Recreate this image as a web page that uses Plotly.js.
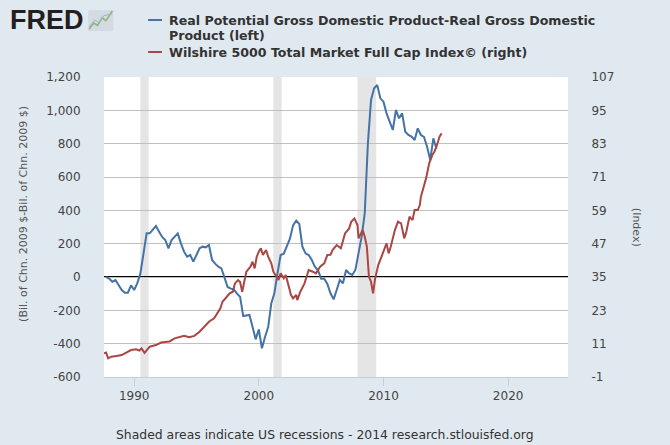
<!DOCTYPE html>
<html>
<head>
<meta charset="utf-8">
<script src="https://cdn.plot.ly/plotly-3.0.1.min.js"></script>
<style>
  html, body { margin: 0; padding: 0; background: #e1e9f0; }
  #chart { width: 670px; height: 445px; }
</style>
</head>
<body>
<div id="chart"></div>
<script>
// Real Potential GDP - Real GDP, quarterly (left axis)
var gap_dates = ['1987-10-01', '1988-01-01', '1988-04-01', '1988-07-01', '1988-10-01',
  '1989-01-01', '1989-04-01', '1989-07-01', '1989-10-01',
  '1990-01-01', '1990-04-01', '1990-07-01', '1990-10-01',
  '1991-01-01', '1991-04-01', '1991-07-01', '1991-10-01',
  '1992-01-01', '1992-04-01', '1992-07-01', '1992-10-01',
  '1993-01-01', '1993-04-01', '1993-07-01', '1993-10-01',
  '1994-01-01', '1994-04-01', '1994-07-01', '1994-10-01',
  '1995-01-01', '1995-04-01', '1995-07-01', '1995-10-01',
  '1996-01-01', '1996-04-01', '1996-07-01', '1996-10-01',
  '1997-01-01', '1997-04-01', '1997-07-01', '1997-10-01',
  '1998-01-01', '1998-04-01', '1998-07-01', '1998-10-01',
  '1999-01-01', '1999-04-01', '1999-07-01', '1999-10-01',
  '2000-01-01', '2000-04-01', '2000-07-01', '2000-10-01',
  '2001-01-01', '2001-04-01', '2001-07-01', '2001-10-01',
  '2002-01-01', '2002-04-01', '2002-07-01', '2002-10-01',
  '2003-01-01', '2003-04-01', '2003-07-01', '2003-10-01',
  '2004-01-01', '2004-04-01', '2004-07-01', '2004-10-01',
  '2005-01-01', '2005-04-01', '2005-07-01', '2005-10-01',
  '2006-01-01', '2006-04-01', '2006-07-01', '2006-10-01',
  '2007-01-01', '2007-04-01', '2007-07-01', '2007-10-01',
  '2008-01-01', '2008-04-01', '2008-07-01', '2008-10-01',
  '2009-01-01', '2009-04-01', '2009-07-01', '2009-10-01',
  '2010-01-01', '2010-04-01', '2010-07-01', '2010-10-01',
  '2011-01-01', '2011-04-01', '2011-07-01', '2011-10-01',
  '2012-01-01', '2012-04-01', '2012-07-01', '2012-10-01',
  '2013-01-01', '2013-04-01', '2013-07-01', '2013-10-01',
  '2014-01-01', '2014-04-01'];
var gap_values = [0, -10, -28, -18, -48,
  -78, -94, -94, -50,
  -78, -38, 20, 140,
  262, 262, 282, 306,
  272, 240, 222, 172,
  222, 240, 262, 202,
  152, 122, 132, 92,
  130, 172, 182, 178,
  192, 102, 80, 62,
  52, -8, -60, -70,
  -74, -100, -118, -234,
  -230, -228, -298, -374,
  -314, -428, -360, -300,
  -158, -98, 22, 132,
  140, 180, 230, 310,
  338, 318, 182, 142,
  132, 102, 62, 40,
  -10, -10, -42, -98,
  -134, -78, -18, -38,
  42, 22, 12, 42,
  142, 242, 382, 802,
  1062, 1132, 1152, 1072,
  1052, 982, 932, 882,
  1002, 952, 982, 872,
  852, 842, 822, 892,
  852, 840, 782, 702,
  832, 770];

// Wilshire 5000 Total Market Full Cap Index (right axis)
var wil_dates = ['1987-08-01', '1987-10-01', '1987-12-01', '1988-03-01', '1988-08-01',
  '1989-01-01', '1989-05-01', '1989-10-01', '1990-03-01', '1990-06-01', '1990-08-01', '1990-11-01',
  '1991-04-01', '1991-10-01', '1992-03-01', '1992-11-01', '1993-04-01', '1993-09-01',
  '1994-01-01', '1994-06-01', '1994-11-01', '1995-04-01', '1995-09-01', '1996-01-01',
  '1996-06-01', '1996-12-01', '1997-02-01', '1997-06-01', '1997-09-01', '1997-12-01',
  '1998-02-01', '1998-05-01', '1998-07-01', '1998-09-01', '1998-11-01', '1999-01-01',
  '1999-05-01', '1999-07-01', '1999-09-01', '1999-11-01', '2000-01-01', '2000-03-01',
  '2000-05-01', '2000-08-01', '2000-10-01', '2001-01-01', '2001-03-01', '2001-06-01',
  '2001-08-01', '2001-10-01', '2002-01-01', '2002-03-01', '2002-06-01', '2002-08-01',
  '2002-10-01', '2003-01-01', '2003-02-01', '2003-05-01', '2003-09-01', '2004-01-01',
  '2004-05-01', '2004-08-01', '2004-12-01', '2005-04-01', '2005-07-01', '2005-10-01',
  '2005-12-01', '2006-04-01', '2006-08-01', '2006-12-01', '2007-04-01', '2007-06-01',
  '2007-09-01', '2007-12-01', '2008-01-01', '2008-05-01', '2008-07-01', '2008-09-01',
  '2008-11-01', '2009-01-01', '2009-03-01', '2009-05-01', '2009-08-01', '2009-12-01',
  '2010-04-01', '2010-06-01', '2010-08-01', '2010-12-01', '2011-03-01', '2011-06-01',
  '2011-09-01', '2011-11-01', '2012-02-01', '2012-05-01', '2012-07-01', '2012-10-01',
  '2012-12-01', '2013-01-01', '2013-05-01', '2013-06-01', '2013-09-01', '2013-12-01',
  '2014-02-01', '2014-04-01', '2014-07-01', '2014-09-01'];
var wil_values = [7.5, 7.8, 5.7, 6.3, 6.6,
  6.9, 7.7, 8.7, 9.0, 8.5, 9.3, 7.7,
  9.9, 10.5, 11.4, 11.8, 12.9, 13.5,
  13.8, 13.3, 13.8, 15.3, 17.1, 18.9,
  20.1, 23.7, 26.1, 27.9, 29.1, 29.7,
  32.7, 33.9, 33.3, 29.7, 33.3, 36.9,
  38.7, 40.5, 38.1, 42.3, 44.1, 45.3,
  42.9, 44.7, 42.3, 39.9, 36.9, 35.1,
  33.9, 36.3, 34.5, 35.7, 31.5, 28.5,
  27.3, 28.5, 26.7, 29.7, 32.7, 37.5,
  36.9, 36.3, 38.7, 39.9, 42.9, 43.0,
  44.7, 46.5, 45.3, 50.7, 52.5, 54.9,
  56.1, 53.7, 48.9, 51.9, 49.5, 45.9,
  35.1, 33.3, 29.1, 34.5, 39.3, 42.9,
  47.1, 43.5, 45.9, 51.9, 54.9, 54.3,
  48.9, 51.3, 56.7, 55.5, 59.1, 59.1,
  60.9, 63.9, 68.7, 70.5, 75.9, 78.9,
  80.1, 81.9, 85.5, 86.7];

var rec_start = ['1990-07-01', '2001-03-01', '2007-12-01'];
var rec_end = ['1991-03-01', '2001-11-01', '2009-06-01'];

var left_ticks = [-600, -400, -200, 0, 200, 400, 600, 800, 1000, 1200];
var right_ticks = [-1, 11, 23, 35, 47, 59, 71, 83, 95, 107];
var x_ticks = ['1990-01-01', '2000-01-01', '2010-01-01', '2020-01-01'];
var x_labels = ['1990', '2000', '2010', '2020'];

var blue = '#4572a7';
var red = '#aa4643';
var font_family = 'DejaVu Sans, Verdana, sans-serif';

var data = [{
  x: gap_dates,
  y: gap_values,
  type: 'scatter',
  mode: 'lines',
  line: {color: blue, width: 2},
  hoverinfo: 'x+y',
  showlegend: false
}, {
  x: wil_dates,
  y: wil_values,
  yaxis: 'y2',
  type: 'scatter',
  mode: 'lines',
  line: {color: red, width: 2},
  hoverinfo: 'x+y',
  showlegend: false
}];

var shapes = [];
for (var i = 0; i < rec_start.length; i++) {
  shapes.push({
    type: 'rect', xref: 'x', yref: 'paper',
    x0: rec_start[i], x1: rec_end[i], y0: 0, y1: 1,
    fillcolor: '#e5e5e5', line: {width: 0}, layer: 'below'
  });
}
// zero line
shapes.push({
  type: 'line', xref: 'paper', yref: 'y',
  x0: 0, x1: 1, y0: 0, y1: 0,
  line: {color: '#000000', width: 2}, layer: 'below'
});
// legend swatches
shapes.push({type: 'line', xref: 'paper', yref: 'paper', x0: 0.095, x1: 0.125, y0: 1.19, y1: 1.19,
  line: {color: blue, width: 2}});
shapes.push({type: 'line', xref: 'paper', yref: 'paper', x0: 0.095, x1: 0.125, y0: 1.0833, y1: 1.0833,
  line: {color: red, width: 2}});
// little FRED chart icon
shapes.push({type: 'rect', xref: 'paper', yref: 'paper', x0: -0.034, x1: 0.02, y0: 1.153, y1: 1.223,
  fillcolor: '#d3dbe2', line: {width: 0}});
shapes.push({type: 'path', xref: 'paper', yref: 'paper',
  path: 'M -0.032 1.16 L -0.022 1.18 L -0.014 1.172 L -0.004 1.197 L 0.004 1.188 L 0.018 1.22',
  line: {color: '#8fb573', width: 1.5}});
shapes.push({type: 'path', xref: 'paper', yref: 'paper',
  path: 'M -0.032 1.167 L -0.02 1.19 L -0.01 1.18 L 0.0 1.205 L 0.018 1.21',
  line: {color: '#9db3cc', width: 1}});

var annotations = [
  {xref: 'paper', yref: 'paper', x: -0.207, y: 1.19, xanchor: 'left', yanchor: 'middle',
    text: '<b>FRED</b>', showarrow: false,
    font: {family: 'Liberation Sans, Arial, sans-serif', size: 27, color: '#231f20'}},
  {xref: 'paper', yref: 'paper', x: 0.1358, y: 1.19, xanchor: 'left', yanchor: 'middle',
    text: '<b>Real Potential Gross Domestic Product-Real Gross Domestic</b>', showarrow: false,
    font: {family: font_family, size: 12.6, color: '#333333'}},
  {xref: 'paper', yref: 'paper', x: 0.1358, y: 1.1367, xanchor: 'left', yanchor: 'middle',
    text: '<b>Product (left)</b>', showarrow: false,
    font: {family: font_family, size: 12.6, color: '#333333'}},
  {xref: 'paper', yref: 'paper', x: 0.1358, y: 1.0833, xanchor: 'left', yanchor: 'middle',
    text: '<b>Wilshire 5000 Total Market Full Cap Index\u00a9 (right)</b>', showarrow: false,
    font: {family: font_family, size: 12.6, color: '#333333'}},
  {xref: 'paper', yref: 'paper', x: -0.175, y: 0.543, xanchor: 'center', yanchor: 'middle',
    text: '(Bil. of Chn. 2009 $-Bil. of Chn. 2009 $)', textangle: -90, showarrow: false,
    font: {family: font_family, size: 11, color: '#555555'}},
  {xref: 'paper', yref: 'paper', x: 1.149, y: 0.5, xanchor: 'center', yanchor: 'middle',
    text: '(Index)', textangle: 90, showarrow: false,
    font: {family: font_family, size: 11, color: '#555555'}},
  {xref: 'paper', yref: 'paper', x: 0.476, y: -0.193, xanchor: 'center', yanchor: 'middle',
    text: 'Shaded areas indicate US recessions - 2014 research.stlouisfed.org', showarrow: false,
    font: {family: font_family, size: 12.4, color: '#333333'}}
];

var layout = {
  width: 670,
  height: 445,
  paper_bgcolor: '#e1e9f0',
  plot_bgcolor: '#ffffff',
  margin: {l: 104, r: 102, t: 77, b: 68, pad: 0},
  font: {family: font_family, size: 12, color: '#444444'},
  xaxis: {
    type: 'date',
    range: ['1987-08-01', '2024-10-20'],
    tickvals: x_ticks,
    ticktext: x_labels,
    showgrid: false,
    zeroline: false,
    showline: true,
    linecolor: '#c0d0e0',
    linewidth: 1,
    ticks: 'outside',
    ticklen: 8,
    tickcolor: '#c0d0e0',
    tickfont: {family: font_family, size: 12, color: '#444444'}
  },
  yaxis: {
    range: [-600, 1200],
    tickvals: left_ticks,
    ticktext: left_ticks.map(function(v) { return v.toLocaleString('en'); }),
    showgrid: true,
    gridcolor: '#c0c0c0',
    gridwidth: 1,
    zeroline: false,
    showline: false,
    ticks: 'outside',
    ticklen: 20,
    tickcolor: 'rgba(0,0,0,0)',
    tickfont: {family: font_family, size: 12, color: '#444444'}
  },
  yaxis2: {
    range: [-1, 107],
    overlaying: 'y',
    side: 'right',
    tickvals: right_ticks,
    ticktext: right_ticks.map(function(v) { return String(v); }),
    showgrid: false,
    zeroline: false,
    showline: false,
    ticks: 'outside',
    ticklen: 20,
    tickcolor: 'rgba(0,0,0,0)',
    tickfont: {family: font_family, size: 12, color: '#444444'}
  },
  shapes: shapes,
  annotations: annotations,
  showlegend: false
};

Plotly.newPlot('chart', data, layout, {displayModeBar: false, staticPlot: true});
</script>
</body>
</html>
